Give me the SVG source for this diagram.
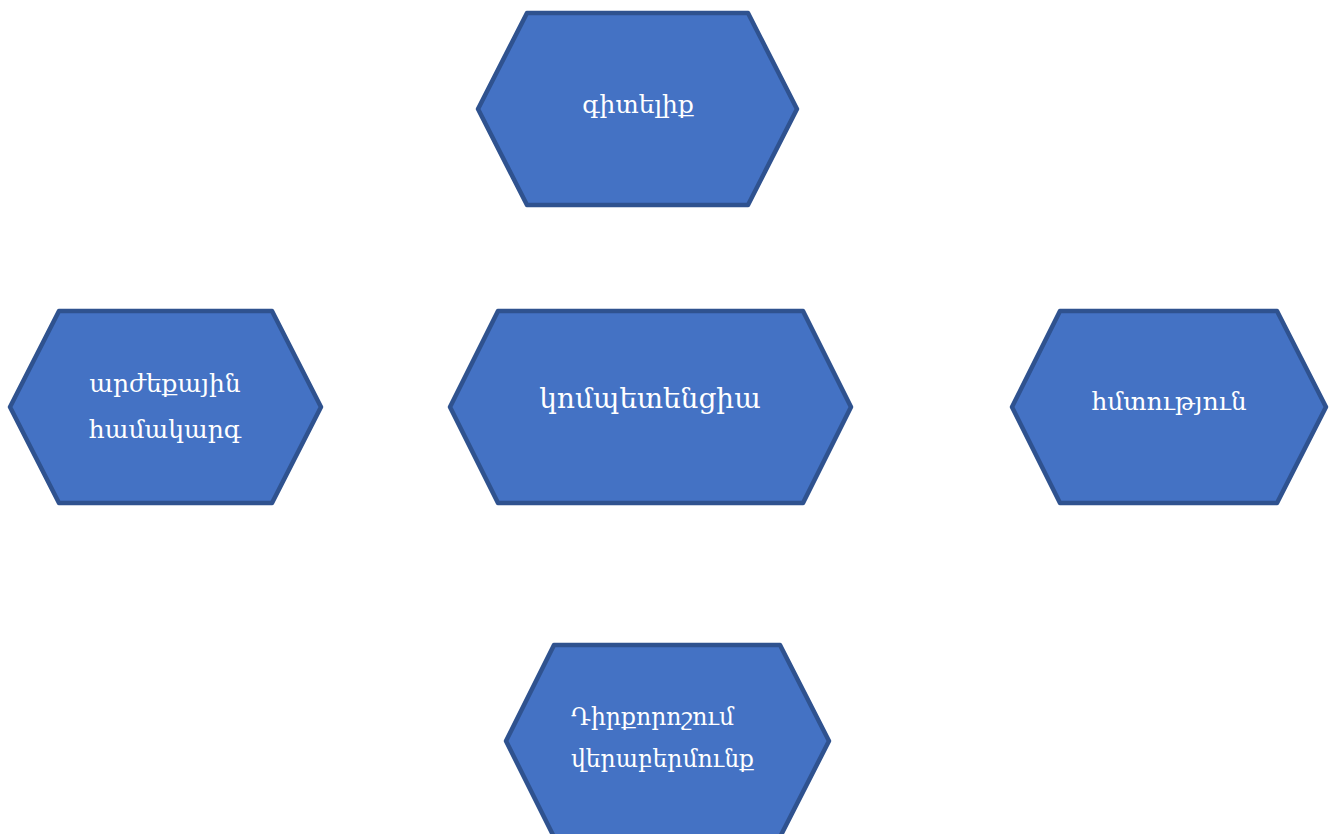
<svg xmlns="http://www.w3.org/2000/svg" width="1335" height="834" viewBox="0 0 1335 834">
<style>
.hex{fill:#4472C4;stroke:#2F528F;stroke-width:4.5;stroke-linejoin:round}
.t{font-family:"DejaVu Serif","Noto Serif","Liberation Serif",serif;fill:#ffffff;font-size:25px}
</style>
<rect width="1335" height="834" fill="#ffffff"/>
<g id="connectors"></g>
<g id="node-gitelik">
<polygon class="hex" points="527,13 748,13 797,109 748,205 527,205 478,109"/>
<text class="t" x="638" y="113" text-anchor="middle">գիտելիք</text>
</g>
<g id="node-arzheqayin">
<polygon class="hex" points="59,311 272,311 321,407 272,503 59,503 10,407"/>
<text class="t" x="165" y="392" text-anchor="middle">արժեքային</text>
<text class="t" x="165" y="438" text-anchor="middle">համակարգ</text>
</g>
<g id="node-kompetencia">
<polygon class="hex" points="498,311 803,311 851,407 803,503 498,503 450,407"/>
<text class="t" x="650" y="408" text-anchor="middle" style="font-size:28px">կոմպետենցիա</text>
</g>
<g id="node-hmtutyun">
<polygon class="hex" points="1060,311 1277,311 1326,407 1277,503 1060,503 1012,407"/>
<text class="t" x="1169" y="410" text-anchor="middle">հմտություն</text>
</g>
<g id="node-dirqoroshum">
<polygon class="hex" points="554,645 780,645 829,741 780,837 554,837 506,741"/>
<text class="t" x="571" y="725" style="font-size:23.5px">Դիրքորոշում</text>
<text class="t" x="571" y="767" style="font-size:23.5px">վերաբերմունք</text>
</g>
</svg>
